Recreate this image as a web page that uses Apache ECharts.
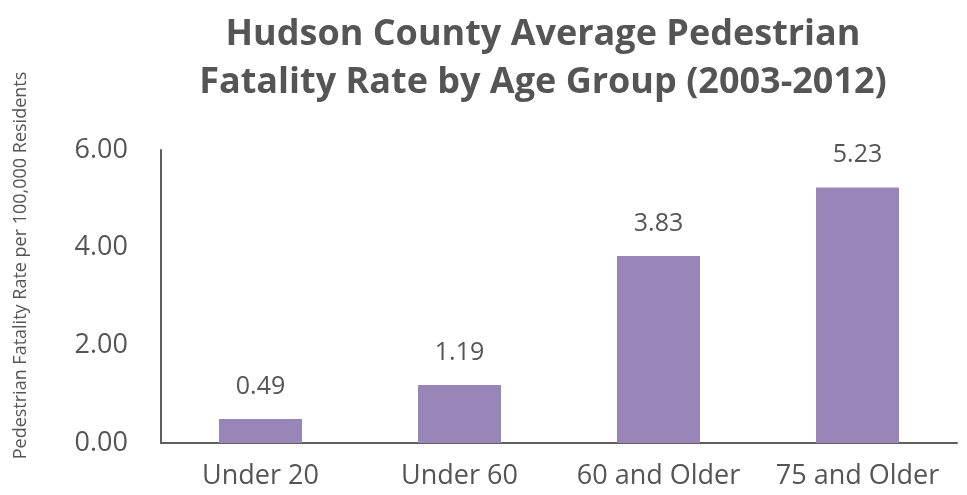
<!DOCTYPE html>
<html>
<head>
  <meta charset="UTF-8" />
  <title>Hudson County Pedestrian Fatality Rate</title>
  <script src="https://cdn.jsdelivr.net/npm/echarts@6/dist/echarts.min.js"></script>
  <style>
    body { margin: 0; background: #fff; }
    #main { width: 967px; height: 495px; }
  </style>
</head>
<body>
  <div id="main"></div>
  <script>
    // chart data
    const ageGroups = ['Under 20', 'Under 60', '60 and Older', '75 and Older'];
    const fatalityRates = [0.49, 1.19, 3.83, 5.23];
    const yTicks = [0, 2, 4, 6];

    const textGrey = '#555555';
    const font = '"Open Sans", "Noto Sans", sans-serif';

    let chart = echarts.init(document.getElementById('main'));

    chart.setOption({
      animation: false,
      title: {
        text: 'Hudson County Average Pedestrian\nFatality Rate by Age Group (2003-2012)',
        left: 538,
        textAlign: 'center',
        top: 6,
        textStyle: {
          color: textGrey,
          fontFamily: font,
          fontWeight: 'bold',
          fontSize: 36,
          lineHeight: 48
        }
      },
      grid: {
        left: 161,
        right: 10,
        top: 150,
        bottom: 52
      },
      xAxis: {
        type: 'category',
        data: ageGroups,
        axisLine: { lineStyle: { color: '#5f5f5f', width: 2 } },
        axisTick: { show: false },
        axisLabel: {
          interval: 0,
          hideOverlap: false,
          color: textGrey,
          fontFamily: font,
          fontSize: 27,
          margin: 20
        }
      },
      yAxis: {
        type: 'value',
        min: yTicks[0],
        max: yTicks[yTicks.length - 1],
        interval: 2,
        name: 'Pedestrian Fatality Rate per 100,000 Residents',
        nameLocation: 'middle',
        nameGap: 131,
        nameTextStyle: {
          color: textGrey,
          fontFamily: font,
          fontSize: 18,
          padding: [0, 0, 0, 62]
        },
        axisLine: { show: true, lineStyle: { color: '#5f5f5f', width: 2 } },
        axisTick: { show: false },
        splitLine: { show: false },
        axisLabel: {
          color: textGrey,
          fontFamily: font,
          fontSize: 27,
          margin: 33,
          formatter: v => v.toFixed(2)
        }
      },
      series: [{
        type: 'bar',
        data: fatalityRates,
        barWidth: 83,
        itemStyle: { color: '#9886b9' },
        label: {
          show: true,
          position: 'top',
          distance: 20,
          color: textGrey,
          fontFamily: font,
          fontSize: 25,
          formatter: p => p.value.toFixed(2)
        }
      }]
    });
  </script>
</body>
</html>
